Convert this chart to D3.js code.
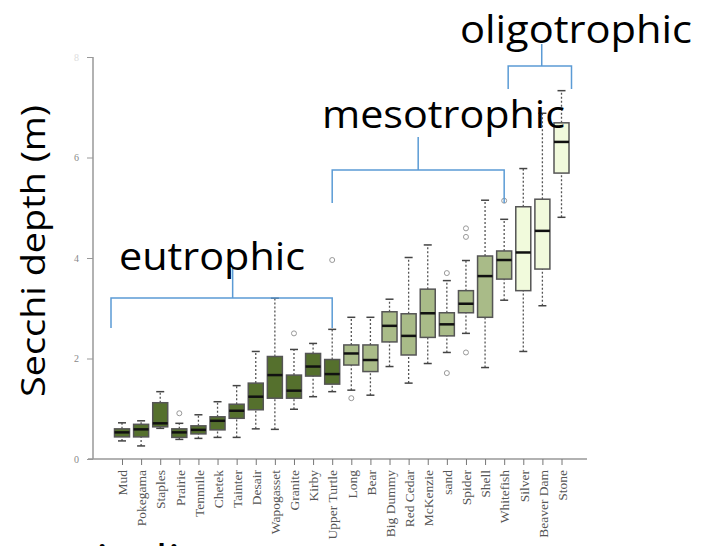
<!DOCTYPE html>
<html>
<head>
    <title>Secchi depth</title>
    <script src="https://d3js.org/d3.v7.min.js"></script>
    <style>
        body { margin: 0; background: #fff; }
    </style>
</head>
<body>
    <div id="chart"></div>

    <script>
        // lakes, sorted by median Secchi depth
        const lakes = ["Mud", "Pokegama", "Staples", "Prairie", "Tennnile", "Chetek", "Tainter", "Desair",
            "Wapogasset", "Granite", "Kirby", "Upper Turtle", "Long", "Bear", "Big Dummy", "Red Cedar",
            "McKenzie", "sand", "Spider", "Shell", "Whitefish", "Silver", "Beaver Dam", "Stone"];
        const trophic = ["eu", "eu", "eu", "eu", "eu", "eu", "eu", "eu", "eu", "eu", "eu", "eu",
            "meso", "meso", "meso", "meso", "meso", "meso", "meso", "meso", "meso", "oligo", "oligo", "oligo"];

        // box stats (m)
        const whiskerLow = [0.36, 0.26, 0.61, 0.39, 0.41, 0.43, 0.43, 0.60, 0.59, 0.99, 1.24, 1.34,
            1.37, 1.27, 1.84, 1.51, 1.90, 2.12, 2.50, 1.82, 3.16, 2.14, 3.05, 4.81];
        const q1 = [0.44, 0.44, 0.64, 0.43, 0.50, 0.58, 0.81, 0.98, 1.21, 1.21, 1.65, 1.49,
            1.87, 1.74, 2.33, 2.07, 2.42, 2.45, 2.91, 2.82, 3.58, 3.35, 3.78, 5.69];
        const median = [0.53, 0.59, 0.71, 0.53, 0.58, 0.76, 0.96, 1.24, 1.67, 1.36, 1.84, 1.69,
            2.10, 1.97, 2.65, 2.45, 2.90, 2.68, 3.09, 3.64, 3.96, 4.11, 4.54, 6.31];
        const q3 = [0.60, 0.69, 1.12, 0.60, 0.66, 0.84, 1.09, 1.51, 2.04, 1.67, 2.10, 1.98,
            2.27, 2.27, 2.93, 2.89, 3.38, 2.91, 3.35, 4.04, 4.14, 5.02, 5.17, 6.69];
        const whiskerHigh = [0.72, 0.76, 1.34, 0.71, 0.88, 1.14, 1.46, 2.14, 3.20, 2.18, 2.30, 2.58,
            2.82, 2.82, 3.18, 4.01, 4.26, 3.55, 3.95, 5.15, 4.77, 5.78, 6.88, 7.33];
        const outliers = [[], [], [], [0.91], [], [], [], [], [], [2.50], [], [3.96],
            [1.21], [], [], [], [], [3.70, 1.71], [4.59, 4.42, 2.12], [], [5.14], [], [], []];

        const yTicks = [0, 2, 4, 6, 8];

        const width = 717;
        const height = 546;

        const fills = { eu: "#55702d", meso: "#a9bb88", oligo: "#f1fadc" };

        const svg = d3.select("#chart")
            .append("svg")
            .attr("width", width)
            .attr("height", height)
            .style("font-family", "'Liberation Serif', serif");

        const x = d3.scalePoint()
            .domain(lakes)
            .range([122, 561.5]);

        const y = d3.scaleLinear()
            .domain([0, 8])
            .range([459, 57]);

        const boxW = 15;

        // y axis
        const yAxis = svg.append("g")
            .attr("transform", "translate(93,0)")
            .call(d3.axisLeft(y).tickValues(yTicks).tickSize(6).tickPadding(8));
        yAxis.select(".domain").attr("d", "M0," + y(8) + "V" + y(0)).attr("stroke", "#999").attr("stroke-width", 1.5);
        yAxis.selectAll(".tick line").attr("stroke", "#999");
        yAxis.selectAll(".tick text").attr("fill", "#888").attr("font-size", 10)
            .style("font-family", "'Liberation Serif', serif");
        yAxis.selectAll(".tick").filter(d => d === 8).select("text").attr("fill", "#ddd");

        // x axis
        const xAxis = svg.append("g")
            .attr("transform", "translate(0,459)")
            .call(d3.axisBottom(x).tickSize(6).tickPadding(5));
        xAxis.select(".domain").attr("d", "M88,0H587").attr("stroke", "#999").attr("stroke-width", 1.5);
        xAxis.selectAll(".tick line").attr("stroke", "#777");
        xAxis.selectAll(".tick text")
            .attr("transform", "rotate(-90)")
            .attr("text-anchor", "end")
            .attr("x", -11)
            .attr("y", 0)
            .attr("dy", "0.35em")
            .attr("fill", "#555")
            .attr("font-size", 13.5)
            .style("font-family", "'Liberation Serif', serif");

        // boxes
        const g = svg.selectAll("g.box")
            .data(lakes)
            .enter().append("g")
            .attr("class", "box");

        g.append("line")
            .attr("x1", d => x(d)).attr("x2", d => x(d))
            .attr("y1", (d, i) => y(whiskerLow[i])).attr("y2", (d, i) => y(q1[i]))
            .attr("stroke", "#555").attr("stroke-width", 1.3).attr("stroke-dasharray", "2,2");
        g.append("line")
            .attr("x1", d => x(d)).attr("x2", d => x(d))
            .attr("y1", (d, i) => y(q3[i])).attr("y2", (d, i) => y(whiskerHigh[i]))
            .attr("stroke", "#555").attr("stroke-width", 1.3).attr("stroke-dasharray", "2,2");
        g.append("line")
            .attr("x1", d => x(d) - 4).attr("x2", d => x(d) + 4)
            .attr("y1", (d, i) => y(whiskerLow[i])).attr("y2", (d, i) => y(whiskerLow[i]))
            .attr("stroke", "#444").attr("stroke-width", 1.5);
        g.append("line")
            .attr("x1", d => x(d) - 4).attr("x2", d => x(d) + 4)
            .attr("y1", (d, i) => y(whiskerHigh[i])).attr("y2", (d, i) => y(whiskerHigh[i]))
            .attr("stroke", "#444").attr("stroke-width", 1.5);

        g.append("rect")
            .attr("x", d => x(d) - boxW / 2)
            .attr("width", boxW)
            .attr("y", (d, i) => y(q3[i]))
            .attr("height", (d, i) => y(q1[i]) - y(q3[i]))
            .attr("fill", (d, i) => fills[trophic[i]])
            .attr("stroke", "#555")
            .attr("stroke-width", 1.5);

        g.append("line")
            .attr("x1", d => x(d) - boxW / 2).attr("x2", d => x(d) + boxW / 2)
            .attr("y1", (d, i) => y(median[i])).attr("y2", (d, i) => y(median[i]))
            .attr("stroke", "#111").attr("stroke-width", 2.5);

        g.each(function (d, i) {
            d3.select(this).selectAll("circle")
                .data(outliers[i])
                .enter().append("circle")
                .attr("cx", x(d))
                .attr("cy", v => y(v))
                .attr("r", 2.5)
                .attr("fill", "none")
                .attr("stroke", "#999")
                .attr("stroke-width", 1);
        });

        // trophic brackets (ends given relative to the lakes they span)
        const blue = "#5b9bd5";
        const brackets = [
            { from: "Mud", dx0: -11, to: "Upper Turtle", dx1: 0, stem: 0.55, top: 298, drop: 30, rise: 31, label: "eutrophic", tx: 119, tw: 186, ty: 270 },
            { from: "Upper Turtle", dx0: 0, to: "Whitefish", dx1: 0, stem: 0.5, top: 170, drop: 33, rise: 33, label: "mesotrophic", tx: 322, tw: 243, ty: 128 },
            { from: "Whitefish", dx0: 4, to: "Stone", dx1: 10, stem: 0.53, top: 66, drop: 23, rise: 22, label: "oligotrophic", tx: 460, tw: 232, ty: 43 }
        ];
        brackets.forEach(b => {
            const x0 = x(b.from) + b.dx0;
            const x1 = x(b.to) + b.dx1;
            const xm = x0 + (x1 - x0) * b.stem;
            svg.append("path")
                .attr("d", `M${x0},${b.top + b.drop}V${b.top}H${x1}V${b.top + b.drop}M${xm},${b.top}V${b.top - b.rise}`)
                .attr("fill", "none")
                .attr("stroke", blue)
                .attr("stroke-width", 1.5);
            svg.append("text")
                .attr("x", b.tx)
                .attr("y", b.ty)
                .attr("textLength", b.tw)
                .attr("lengthAdjust", "spacingAndGlyphs")
                .style("font-family", "'Open Sans', sans-serif")
                .attr("font-size", 38)
                .attr("fill", "#000")
                .text(b.label);
        });

        // y label
        svg.append("text")
            .attr("transform", "translate(45,251) rotate(-90)")
            .attr("text-anchor", "middle")
            .attr("textLength", 292)
            .attr("lengthAdjust", "spacingAndGlyphs")
            .style("font-family", "'Open Sans', sans-serif")
            .attr("font-size", 32)
            .attr("fill", "#000")
            .text("Secchi depth (m)");

        // slide text below the chart, cut off by the frame edge
        svg.append("text")
            .attr("x", 96)
            .attr("y", 572)
            .attr("textLength", 84)
            .attr("lengthAdjust", "spacingAndGlyphs")
            .style("font-family", "'Open Sans', sans-serif")
            .attr("font-size", 38)
            .attr("fill", "#000")
            .text("indi");
    </script>
</body>
</html>
